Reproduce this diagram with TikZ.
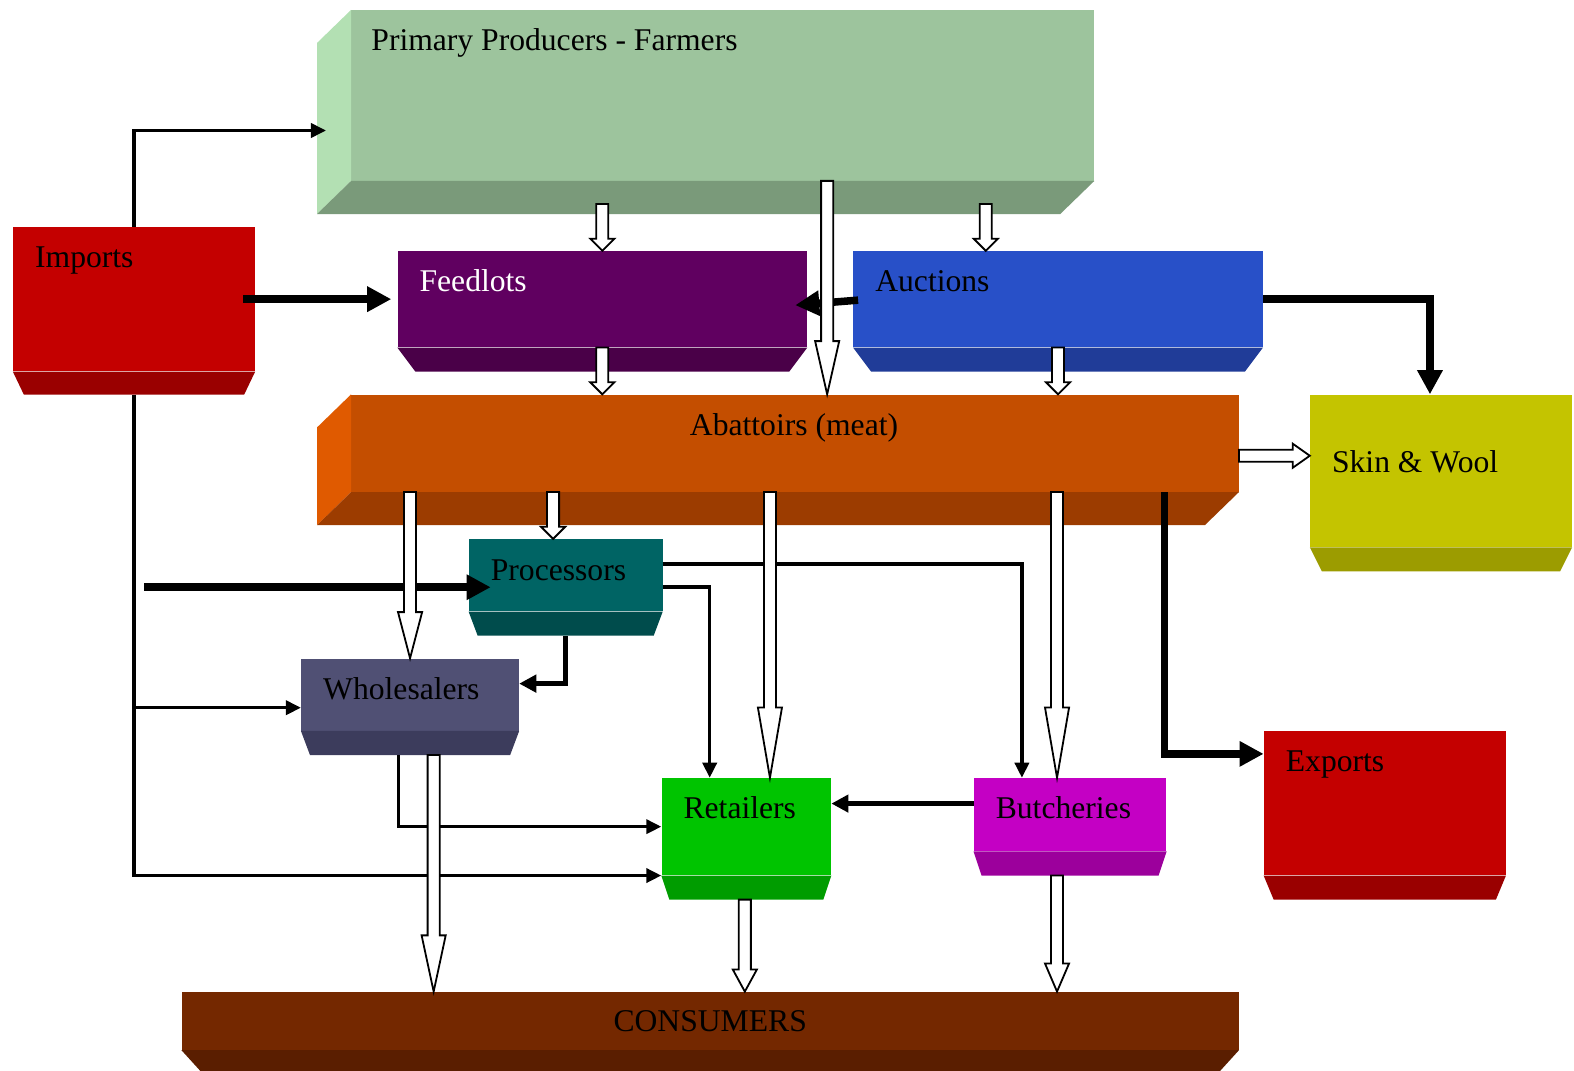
\documentclass[tikz,border=0pt]{standalone}
\usepackage{fontspec}
\setmainfont{Liberation Serif}
\usetikzlibrary{arrows.meta,calc,fit}
\definecolor{farmfront}{HTML}{9DC49D}
\definecolor{farmside}{HTML}{B3E0B3}
\definecolor{farmbase}{HTML}{7A9A7A}
\definecolor{tradered}{HTML}{C40000}
\definecolor{tradebase}{HTML}{9A0000}
\definecolor{feedfront}{HTML}{600060}
\definecolor{feedbase}{HTML}{4A0048}
\definecolor{auctfront}{HTML}{2850C8}
\definecolor{auctbase}{HTML}{203C98}
\definecolor{abatfront}{HTML}{C44E00}
\definecolor{abatside}{HTML}{E05A00}
\definecolor{abatbase}{HTML}{9C3C00}
\definecolor{skinfront}{HTML}{C4C400}
\definecolor{skinbase}{HTML}{9C9C00}
\definecolor{procfront}{HTML}{006464}
\definecolor{procbase}{HTML}{004C4C}
\definecolor{wholfront}{HTML}{505074}
\definecolor{wholbase}{HTML}{3C3C5C}
\definecolor{retfront}{HTML}{00C400}
\definecolor{retbase}{HTML}{009C00}
\definecolor{butchfront}{HTML}{C400C4}
\definecolor{butchbase}{HTML}{9C009C}
\definecolor{consfront}{HTML}{742800}
\definecolor{consbase}{HTML}{5A1E00}
% bottom slab under a front face: node, colour, depth, inset
\newcommand{\slabbase}[4]{%
  \fill[#2] (#1.south west) -- (#1.south east) -- ($(#1.south east)+(-#4,#3)$)
    -- ($(#1.south west)+(#4,#3)$) -- cycle;}
% left side and bottom of an extruded face: node, side colour, base colour
\newcommand{\extrude}[3]{%
  \fill[#2] (#1.north west) -- (#1.south west) -- ($(#1.south west)+(-34,33)$)
    -- ($(#1.north west)+(-34,33)$) -- cycle;
  \fill[#3] (#1.south west) -- (#1.south east) -- ($(#1.south east)+(-34,33)$)
    -- ($(#1.south west)+(-34,33)$) -- cycle;}
% hollow block arrow: from, to, head length
\newcommand{\hollowarrow}[3]{%
  \coordinate (ha) at #1;
  \coordinate (hb) at #2;
  \coordinate (hh) at ($(hb)!#3!(ha)$);
  \draw[hollow] ($(ha)!6pt!90:(hb)$) -- ($(hh)!6pt!-90:(ha)$) -- ($(hh)!12pt!-90:(ha)$)
    -- (hb) -- ($(hh)!12pt!90:(ha)$) -- ($(hh)!6pt!90:(ha)$) -- ($(ha)!6pt!-90:(hb)$) -- cycle;}
\tikzset{
  face/.style={rectangle,inner sep=0pt,draw=none},
  boxText/.style={
    anchor=base west,
    inner sep=0pt,
    xshift=22pt,
    yshift=-41pt,
    font=\fontsize{31.5}{36}\selectfont,
    text=black
  },
  thinFlow/.style={draw=black,line width=3.5pt,-{Triangle[length=15pt,width=14pt]}},
  midFlow/.style={draw=black,line width=4.5pt,-{Triangle[length=17pt,width=17pt]}},
  thickFlow/.style={draw=black,line width=7.5pt,-{Triangle[length=24pt,width=24pt]}},
  hollow/.style={draw=black,fill=white,line width=1.8pt,line join=miter}
}
\begin{document}
\begin{tikzpicture}[x=1pt,y=-1pt]
  \useasboundingbox (0,0) rectangle (1568,1066);

  % faces
  \node[face,fill=farmfront,fit={(350,10) (1090,180)},
    label={[boxText,xshift=-2pt]north west:Primary Producers - Farmers}] (prim) {};
  \extrude{prim}{farmside}{farmbase}
  \node[face,fill=tradered,fit={(13,226) (254,370)},
    label={[boxText]north west:Imports}] (imports) {};
  \slabbase{imports}{tradebase}{23}{11}
  \node[face,fill=feedfront,fit={(396,250) (804,346)},
    label={[boxText,text=white]north west:Feedlots}] (feed) {};
  \slabbase{feed}{feedbase}{24}{18}
  \node[face,fill=auctfront,fit={(850,250) (1258,346)},
    label={[boxText]north west:Auctions}] (auct) {};
  \slabbase{auct}{auctbase}{24}{18}
  \node[face,fill=abatfront,fit={(350,393) (1234,490)},
    label={[boxText,anchor=base,xshift=-23pt]north:Abattoirs (meat)}] (abat) {};
  \extrude{abat}{abatside}{abatbase}
  \node[face,fill=skinfront,fit={(1305,393) (1566,545)},
    label={[boxText,yshift=-37pt]north west:Skin \& Wool}] (skin) {};
  \slabbase{skin}{skinbase}{24}{12}
  \node[face,fill=procfront,fit={(467,537) (660,609)},
    label={[boxText]north west:Processors}] (proc) {};
  \slabbase{proc}{procbase}{24}{9}
  \node[face,fill=wholfront,fit={(300,656) (517,728)},
    label={[boxText]north west:Wholesalers}] (whol) {};
  \slabbase{whol}{wholbase}{24}{9}
  \node[face,fill=retfront,fit={(659,775) (828,872)},
    label={[boxText]north west:Retailers}] (ret) {};
  \slabbase{ret}{retbase}{24}{8}
  \node[face,fill=butchfront,fit={(970,775) (1162,848)},
    label={[boxText]north west:Butcheries}] (butch) {};
  \slabbase{butch}{butchbase}{24}{8}
  \node[face,fill=tradered,fit={(1259,728) (1500,872)},
    label={[boxText]north west:Exports}] (exp) {};
  \slabbase{exp}{tradebase}{24}{10}
  \node[face,fill=consfront,fit={(181,988) (1234,1046)},
    label={[boxText,anchor=base,xshift=-22pt,yshift=1pt]north:CONSUMERS}] (cons) {};
  \slabbase{cons}{consbase}{22}{20}

  % solid flows
  \coordinate (farmin) at ($(prim.west)+(-25,35)$);
  \coordinate (wholin) at ($(whol.west)+(0,13)$);
  \coordinate (procin) at ($(proc.west)+(22,12)$);
  \draw[thinFlow] (imports.north) |- (farmin);
  \draw[thinFlow] ($(imports.south)+(0,23)$) |- (ret.south west);
  \draw[thinFlow] (imports.south |- wholin) -- (wholin);
  \draw[thickFlow] ($(imports.east)+(-12,0)$) -- ($(feed.west)+(-6,0)$);
  \draw[thickFlow] ($(auct.west)+(5,1)$) -- ($(feed.east)+(-12,6)$);
  \draw[thickFlow] (auct.east) -| ($(skin.north)+(-11,0)$);
  \draw[thickFlow] ($(imports.south |- procin)+(10,0)$) -- (procin);
  \draw[midFlow] ($(proc.south)+(0,24)$) |- ($(whol.east)+(0,-11)$);
  \draw[thinFlow] ($(proc.east)+(0,-11)$) -| ($(butch.north)+(-48,0)$);
  \draw[thinFlow] ($(proc.east)+(0,12)$) -| ($(ret.north)+(-36.5,0)$);
  \draw[thinFlow] ($(whol.south)+(-11.5,24)$) |- (ret.west);
  \draw[midFlow] ($(butch.west)+(0,-11)$) -- (ret.east |- {$(butch.west)+(0,-11)$});
  \draw[thickFlow] ($(abat.south east)+(-74,0)$) |- ($(exp.west)+(0,-49)$);

  % hollow flows
  \hollowarrow{($(prim.south -| feed.north)+(0,23)$)}{(feed.north)}{12pt}
  \hollowarrow{($(prim.south -| auct.north)+(-72,23)$)}{($(auct.north)+(-72,0)$)}{12pt}
  \coordinate (abatin) at ($(abat.north)+(32,0)$);
  \hollowarrow{(prim.south -| abatin)}{(abatin)}{53pt}
  \hollowarrow{(feed.south)}{(feed.south |- abat.north)}{12pt}
  \hollowarrow{(auct.south)}{(auct.south |- abat.north)}{12pt}
  \coordinate (skinout) at ($(abat.east)+(0,12.5)$);
  \hollowarrow{(skinout)}{(skin.west |- skinout)}{17pt}
  \hollowarrow{(abat.south -| whol.north)}{(whol.north)}{46pt}
  \coordinate (procfrom) at ($(proc.north)+(-12.5,0)$);
  \hollowarrow{(abat.south -| procfrom)}{(procfrom)}{12pt}
  \coordinate (retfrom) at ($(ret.north)+(23.5,0)$);
  \hollowarrow{(abat.south -| retfrom)}{(retfrom)}{70pt}
  \coordinate (butchfrom) at ($(butch.north)+(-13,0)$);
  \hollowarrow{(abat.south -| butchfrom)}{(butchfrom)}{70pt}
  \coordinate (consa) at ($(whol.south)+(23.5,24)$);
  \hollowarrow{(consa)}{(cons.north -| consa)}{56pt}
  \coordinate (consb) at ($(ret.south)+(-1.5,24)$);
  \hollowarrow{(consb)}{(cons.north -| consb)}{22pt}
  \coordinate (consc) at ($(butch.south)+(-13,24)$);
  \hollowarrow{(consc)}{(cons.north -| consc)}{28pt}
\end{tikzpicture}
\end{document}
